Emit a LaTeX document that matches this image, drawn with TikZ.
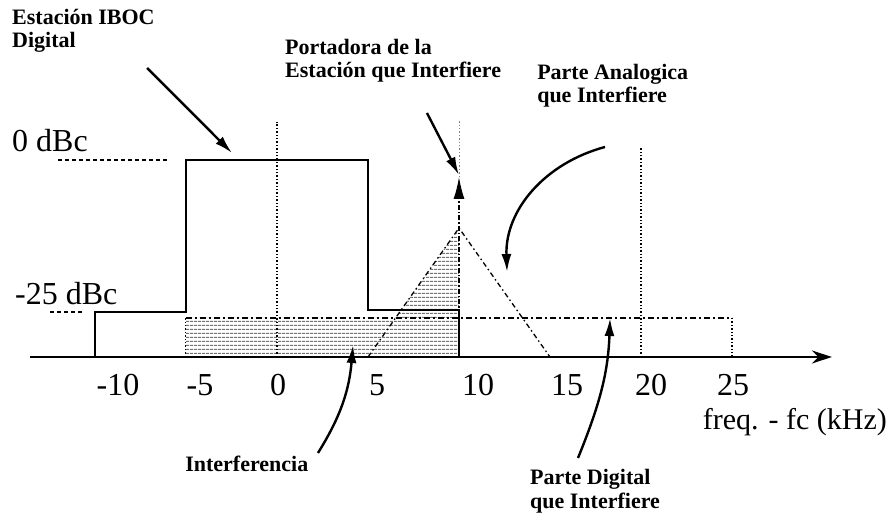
\documentclass[tikz,border=0pt]{standalone}
\usepackage{fontspec}
\setmainfont{Liberation Serif}
\usetikzlibrary{arrows.meta, patterns.meta}

\begin{document}
\begin{tikzpicture}[
    x=18.2pt, y=1pt,
    axisline/.style={line width=2.4pt, -{Stealth[length=20pt,width=13pt]}},
    spectrum/.style={line width=1.8pt},
    guide/.style={line width=1.4pt, dotted},
    bigtext/.style={font=\fontsize{32}{36}\selectfont, inner sep=0pt},
    note/.style={font=\fontsize{22}{23.5}\selectfont\bfseries, align=left, inner sep=0pt},
    pointer/.style={-{Latex[length=18pt,width=10pt]}, line width=2.4pt},
    interf/.style={line width=1.8pt, dash pattern=on 6pt off 3pt on 2pt off 3pt}
]
    \useasboundingbox (-277pt,-156pt) rectangle (611pt,357pt);

    % interfering digital part and half of the analog triangle
    \fill[pattern={Lines[angle=0,distance=4pt,line width=1.1pt]}, pattern color=black!55]
        (-5,0) -- (-5,39) -- (6.51,39) -- (10,129) -- (10,0) -- cycle;
    \draw[interf] (-5,39) -- (25,39);
    \draw[guide, line width=1pt] (-5,0) -- (-5,39);
    \draw[guide] (25,39) -- (25,0);
    \draw[line width=1.3pt, dash pattern=on 5pt off 3pt on 1.5pt off 3pt] (5,0) -- (10,129) -- (15,0);

    % IBOC spectrum
    \draw[spectrum] (-10,0) |- (-5,45) |- (5,197) |- (10,47) -- (10,0);
    \draw[guide] (0,0) -- (0,235);
    \draw[guide] (20,0) -- (20,210);
    \draw[line width=1.4pt, dash pattern=on 4pt off 3pt] (-12.03,197) -- (-5.88,197);
    \draw[line width=1.4pt, dash pattern=on 4pt off 3pt] (-12.47,45) -- (-10.71,45);

    % carrier of the interfering station
    \draw[line width=1.5pt, dash pattern=on 5pt off 2pt on 1.5pt off 2pt, -{Latex[length=22pt,width=11pt]}] (10,0) -- (10,180);
    \draw[guide, line width=0.8pt, black!50] (10,180) -- (10,237);

    \draw[axisline] (-13.57,0) -- (30.49,0);

    \node[bigtext, anchor=base west] (zerodbc) at (-14.56,205) {0 dBc};
    \node[bigtext, anchor=base west] (lowdbc) at (-14.4,52) {-25 dBc};
    \foreach \f/\px in {-10/118, -5/200, 0/278, 5/377, 10/478, 15/567, 20/651, 25/733}
        \node[bigtext, anchor=base] (tick\f) at ({(\px-277)/18.2},-39) {\f};
    \node[font=\fontsize{30}{36}\selectfont, inner sep=0pt, anchor=base east] (freq) at (33.52,-73) {freq. - fc (kHz)};

    \node[note, anchor=base west] (iboc) at (-14.56,309) {Estación IBOC\\Digital};
    \node[note, anchor=base west] (carrier) at (0.44,279) {Portadora de la\\Estación que Interfiere};
    \node[note, anchor=base west] (analog) at (14.29,254) {Parte Analogica\\que Interfiere};
    \node[note, anchor=base west] (interference) at (-5.05,-115) {Interferencia};
    \node[note, anchor=base west] (digital) at (13.9,-151) {Parte Digital\\que Interfiere};

    \coordinate (ibocstart) at (-7.14,289);
    \coordinate (ibocend) at (-2.47,204);
    \coordinate (carrierstart) at (8.24,244);
    \coordinate (carrierend) at (10,182);
    \coordinate (analogstart) at (18.02,210);
    \coordinate (analogend) at (12.64,85);
    \coordinate (interfstart) at (2.25,-96);
    \coordinate (interfend) at (4.18,12);
    \coordinate (digitalstart) at (16.54,-101);
    \coordinate (digitalend) at (18.3,39);

    \draw[pointer] (ibocstart) -- (ibocend);
    \draw[pointer] (carrierstart) -- (carrierend);
    \draw[pointer] (analogstart) to[out=195,in=92] (analogend);
    \draw[pointer] (interfstart) to[out=58,in=265] (interfend);
    \draw[pointer] (digitalstart) to[out=68,in=268] (digitalend);
\end{tikzpicture}
\end{document}
